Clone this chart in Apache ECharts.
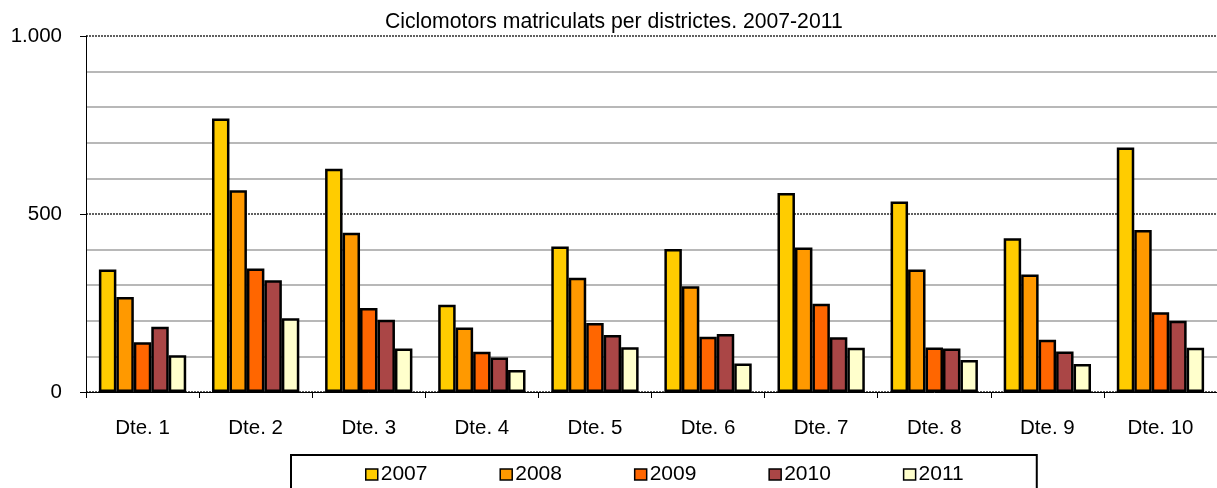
<!DOCTYPE html>
<html>
<head>
<meta charset="utf-8">
<script src="https://cdn.jsdelivr.net/npm/echarts@6/dist/echarts.min.js"></script>
<style>
  html, body { margin: 0; padding: 0; background: #fff; }
  #chart { width: 1217px; height: 488px; }
</style>
</head>
<body>
<div id="chart"></div>
<script>
// Mopeds registered per district, 2007-2011
const districts = ['Dte. 1', 'Dte. 2', 'Dte. 3', 'Dte. 4', 'Dte. 5', 'Dte. 6', 'Dte. 7', 'Dte. 8', 'Dte. 9', 'Dte. 10'];
const years = ['2007', '2008', '2009', '2010', '2011'];
const y2007 = [344, 768, 627, 245, 409, 402, 559, 535, 432, 687];
const y2008 = [267, 567, 447, 181, 321, 297, 406, 344, 330, 455];
const y2009 = [140, 347, 236, 113, 194, 155, 248, 125, 147, 224];
const y2010 = [183, 314, 203, 97, 160, 163, 154, 122, 114, 200];
const y2011 = [103, 207, 122, 62, 126, 80, 124, 90, 79, 124];
const yearColors = ['#FFCC00', '#FF9900', '#FF6600', '#AA4646', '#FFFFCC'];

const seriesValues = [y2007, y2008, y2009, y2010, y2011];
const FONT = "'Liberation Sans', Arial, sans-serif";

// Thousands separator with a dot: 1000 -> "1.000"
function fmtThousands(v) {
  const s = String(Math.round(v));
  return s.replace(/\B(?=(\d{3})+(?!\d))/g, '.');
}

const chart = echarts.init(document.getElementById('chart'), null, { renderer: 'canvas' });

chart.setOption({
  backgroundColor: '#ffffff',
  animation: false,
  title: {
    text: 'Ciclomotors matriculats per districtes. 2007-2011',
    left: 385,
    top: 12,
    padding: 0,
    textStyle: { fontFamily: FONT, fontSize: 21.2, fontWeight: 'normal', color: '#000' }
  },
  legend: {
    data: years,
    left: 291,
    top: 455,
    orient: 'horizontal',
    padding: [9, 73, 30, 74],
    itemGap: 72,
    itemWidth: 12,
    itemHeight: 11,
    borderColor: '#000',
    borderWidth: 2,
    backgroundColor: '#fff',
    icon: 'rect',
    itemStyle: { borderColor: '#000', borderWidth: 1.5 },
    textStyle: { fontFamily: FONT, fontSize: 21, color: '#000', padding: [0, 0, 0, -2] }
  },
  grid: {
    left: 86,
    top: 36,
    width: 1140,
    bottom: 96,
    containLabel: false
  },
  xAxis: {
    type: 'category',
    data: districts,
    axisLine: { show: true, lineStyle: { color: '#000', width: 1 } },
    axisTick: { show: true, alignWithLabel: false, length: 6, lineStyle: { color: '#000' } },
    axisLabel: { fontFamily: FONT, fontSize: 20.5, color: '#000', margin: 26 },
    splitLine: { show: false }
  },
  yAxis: {
    type: 'value',
    min: 0,
    max: 1000,
    interval: 500,
    axisLine: { show: true, lineStyle: { color: '#000', width: 1 } },
    axisTick: { show: true, length: 6, lineStyle: { color: '#000' } },
    axisLabel: {
      fontFamily: FONT, fontSize: 20.5, color: '#000', margin: 24,
      formatter: fmtThousands
    },
    splitLine: { show: true, lineStyle: { color: '#606060', width: 2, type: [2, 1] } },
    minorTick: { show: false, splitNumber: 5 },
    minorSplitLine: { show: true, lineStyle: { color: '#b8b8b8', width: 2 } }
  },
  series: years.map((yr, i) => ({
    name: yr,
    type: 'bar',
    data: seriesValues[i],
    barGap: '0%',
    barCategoryGap: '22.8%',
    itemStyle: { color: yearColors[i], borderColor: '#000', borderWidth: 2.5 }
  }))
});
</script>
</body>
</html>
